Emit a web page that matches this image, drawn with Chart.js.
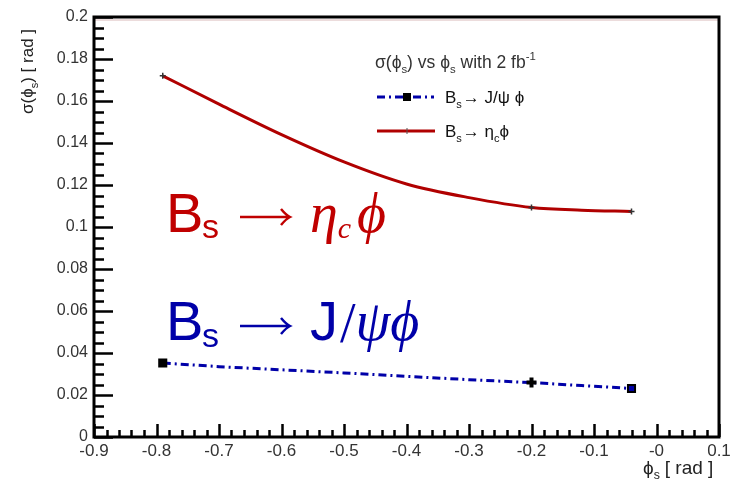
<!DOCTYPE html>
<html>
<head>
<meta charset="utf-8">
<script src="https://cdn.jsdelivr.net/npm/chart.js@4"></script>
<style>
  html, body { margin: 0; padding: 0; background: #fff; }
  #wrap { width: 732px; height: 481px; }
</style>
</head>
<body>
<div id="wrap"><canvas id="grafico" width="732" height="481"></canvas></div>
<script>
// valores
const phiS = [-0.79, -0.7, -0.6, -0.5, -0.4, -0.3, -0.2, -0.12, -0.04];
const sigmaEtac = [0.172, 0.1585, 0.144, 0.131, 0.1205, 0.114, 0.1093, 0.108, 0.1074];
const sigmaJpsi = [0.0352, 0.0335, 0.032, 0.0305, 0.0289, 0.0273, 0.0259, 0.0245, 0.0231];
const markerPhi = [-0.79, -0.2, -0.04];

const xTickLabels = ['-0.9', '-0.8', '-0.7', '-0.6', '-0.5', '-0.4', '-0.3', '-0.2', '-0.1', '-0', '0.1'];
const yTickLabels = ['0', '0.02', '0.04', '0.06', '0.08', '0.1', '0.12', '0.14', '0.16', '0.18', '0.2'];

const ROJO = '#b00000';
const AZUL = '#0000a8';
const SANS = '"Liberation Sans", Arial, sans-serif';
const SERIF = '"Liberation Serif", "DejaVu Serif", serif';
const PHI = '\u03d5';

function puntos(ys) {
    return phiS.map((x, i) => ({ x: x, y: ys[i] }));
}
function esMarcador(ctx) {
    const p = ctx.raw;
    return p && markerPhi.some(m => Math.abs(m - p.x) < 1e-6);
}

// escribe trozos de texto con subindices / superindices
function textoRico(c, partes, x, y, size, color) {
    c.save();
    c.fillStyle = color;
    c.textBaseline = 'alphabetic';
    c.textAlign = 'left';
    let cx = x;
    partes.forEach(p => {
        const s = p.sub || p.sup ? size * 0.65 : size;
        const fam = p.serif ? SERIF : SANS;
        c.font = (p.italic ? 'italic ' : '') + s + 'px ' + fam;
        let dy = 0;
        if (p.sub) dy = size * 0.28;
        if (p.sup) dy = -size * 0.45;
        c.fillText(p.t, cx, y + dy);
        cx += c.measureText(p.t).width + (p.gap || 0);
    });
    c.restore();
    return cx;
}

function flecha(c, x1, x2, y, color, w) {
    c.save();
    c.strokeStyle = color;
    c.lineWidth = w;
    c.beginPath();
    c.moveTo(x1, y);
    c.lineTo(x2, y);
    c.moveTo(x2 - 9, y - 8);
    c.quadraticCurveTo(x2 - 4, y - 2, x2, y);
    c.quadraticCurveTo(x2 - 4, y + 2, x2 - 9, y + 8);
    c.stroke();
    c.restore();
}

const marcoYTexto = {
    id: 'marcoYTexto',
    afterDatasetsDraw(chart) {
        const c = chart.ctx;
        const a = chart.chartArea;
        const xs = chart.scales.x;
        const ys = chart.scales.y;
        c.save();

        // linea tenue bajo el borde superior
        c.strokeStyle = '#ecdcdc';
        c.lineWidth = 2;
        c.beginPath();
        c.moveTo(a.left, a.top + 3);
        c.lineTo(a.right, a.top + 3);
        c.stroke();

        // marco
        c.strokeStyle = '#000';
        c.lineWidth = 3;
        c.strokeRect(a.left, a.top, a.right - a.left, a.bottom - a.top);

        // marcas de los ejes, hacia dentro
        c.lineWidth = 2.5;
        c.beginPath();
        for (let i = 0; i <= 40; i++) {
            const py = Math.round(ys.getPixelForValue(i * 0.005)) + 0.5;
            const len = i % 4 === 0 ? 19 : 10;
            c.moveTo(a.left, py);
            c.lineTo(a.left + len, py);
        }
        for (let i = 0; i <= 50; i++) {
            const px = Math.round(xs.getPixelForValue(-0.9 + i * 0.02)) + 0.5;
            const len = i % 5 === 0 ? 13 : 7;
            c.moveTo(px, a.bottom);
            c.lineTo(px, a.bottom - len);
        }
        c.stroke();

        // titulo eje y
        c.save();
        c.translate(33, 114);
        c.rotate(-Math.PI / 2);
        textoRico(c, [{ t: '\u03c3(' + PHI }, { t: 's', sub: true }, { t: ') [ rad ]' }], 0, 0, 17, '#222');
        c.restore();

        // titulo eje x
        textoRico(c, [{ t: PHI }, { t: 's', sub: true, gap: 5 }, { t: '[ rad ]' }], 643, 474, 19, '#222');

        // leyenda
        textoRico(c, [{ t: '\u03c3(' + PHI }, { t: 's', sub: true }, { t: ') vs ' + PHI }, { t: 's', sub: true },
            { t: ' with 2 fb' }, { t: '-1', sup: true }], 375, 68, 17.5, '#333');

        c.strokeStyle = AZUL;
        c.lineWidth = 3;
        c.setLineDash([8, 4, 2, 4]);
        c.beginPath();
        c.moveTo(377, 97);
        c.lineTo(434, 97);
        c.stroke();
        c.setLineDash([]);
        c.fillStyle = '#000';
        c.fillRect(403, 93, 8, 8);
        textoRico(c, [{ t: 'B' }, { t: 's', sub: true, gap: 1 }, { t: '\u2192 J/\u03c8 ' + PHI }], 445, 103, 17, '#111');

        c.strokeStyle = ROJO;
        c.beginPath();
        c.moveTo(377, 131);
        c.lineTo(435, 131);
        c.stroke();
        c.strokeStyle = '#555';
        c.lineWidth = 1;
        c.beginPath();
        c.moveTo(407, 128);
        c.lineTo(407, 134);
        c.stroke();
        textoRico(c, [{ t: 'B' }, { t: 's', sub: true, gap: 1 }, { t: '\u2192 \u03b7' }, { t: 'c', sub: true }, { t: PHI }], 445, 137, 17, '#111');

        // rotulos grandes
        textoRico(c, [{ t: 'B' }], 166, 232, 56, '#c00000');
        textoRico(c, [{ t: 's' }], 202, 238, 34, '#c00000');
        flecha(c, 240, 290, 217, '#c00000', 2.5);
        let fx = textoRico(c, [{ t: '\u03b7', italic: true, serif: true }], 310, 232, 56, '#c00000');
        fx = textoRico(c, [{ t: 'c', italic: true, serif: true }], fx, 238, 30, '#c00000');
        textoRico(c, [{ t: PHI, italic: true, serif: true }], fx + 6, 232, 56, '#c00000');

        textoRico(c, [{ t: 'B' }], 166, 340, 56, AZUL);
        textoRico(c, [{ t: 's' }], 202, 347, 34, AZUL);
        flecha(c, 240, 290, 326, AZUL, 2.5);
        fx = textoRico(c, [{ t: 'J' }], 310, 340, 56, AZUL);
        fx = textoRico(c, [{ t: '/', serif: true }], fx + 2, 342, 56, AZUL);
        textoRico(c, [{ t: '\u03c8' + PHI, italic: true, serif: true }], fx, 340, 56, AZUL);

        c.restore();
    }
};

const ctx = document.getElementById('grafico').getContext('2d');
new Chart(ctx, {
    type: 'scatter',
    data: {
        datasets: [
            {
                label: 'Bs -> J/psi phi',
                data: puntos(sigmaJpsi),
                showLine: true,
                borderColor: AZUL,
                borderWidth: 3,
                borderDash: [8, 4, 2, 4],
                pointStyle: ['rect', 'rect', 'rect', 'rect', 'rect', 'rect', 'cross', 'rect', 'rect'],
                pointRadius: c => esMarcador(c) ? 5 : 0,
                pointBorderColor: '#000',
                pointBorderWidth: c => (c.raw && c.raw.x === -0.2) ? 4 : 2,
                pointBackgroundColor: c => (c.raw && c.raw.x === -0.04) ? AZUL : '#000'
            },
            {
                label: 'Bs -> eta_c phi',
                data: puntos(sigmaEtac),
                showLine: true,
                borderColor: ROJO,
                borderWidth: 3,
                cubicInterpolationMode: 'monotone',
                pointStyle: 'cross',
                pointRadius: c => esMarcador(c) ? 3 : 0,
                pointBorderColor: '#333',
                pointBorderWidth: 1.5
            }
        ]
    },
    options: {
        responsive: false,
        animation: false,
        events: [],
        layout: { padding: { top: 17, right: 13, left: 0, bottom: 0 } },
        plugins: {
            legend: { display: false },
            tooltip: { enabled: false }
        },
        scales: {
            x: {
                type: 'linear',
                min: -0.9,
                max: 0.1,
                afterFit: s => { s.height = 44; s.paddingLeft = 0; s.paddingRight = 0; },
                afterBuildTicks: s => { s.ticks = xTickLabels.map((t, i) => ({ value: -0.9 + i * 0.1 })); },
                grid: { display: false, drawTicks: false },
                border: { display: false },
                ticks: {
                    padding: 4,
                    color: '#333',
                    font: { family: SANS, size: 17 },
                    maxRotation: 0,
                    autoSkip: false,
                    callback: (v, i) => xTickLabels[i]
                }
            },
            y: {
                min: 0,
                max: 0.2,
                afterFit: s => { s.width = 94; s.paddingTop = 0; s.paddingBottom = 0; },
                afterBuildTicks: s => { s.ticks = yTickLabels.map((t, i) => ({ value: i * 0.02 })); },
                grid: { display: false, drawTicks: false },
                border: { display: false },
                ticks: {
                    padding: 6,
                    color: '#333',
                    font: { family: SANS, size: 16 },
                    autoSkip: false,
                    callback: (v, i) => yTickLabels[i]
                }
            }
        }
    },
    plugins: [marcoYTexto]
});
</script>
</body>
</html>
